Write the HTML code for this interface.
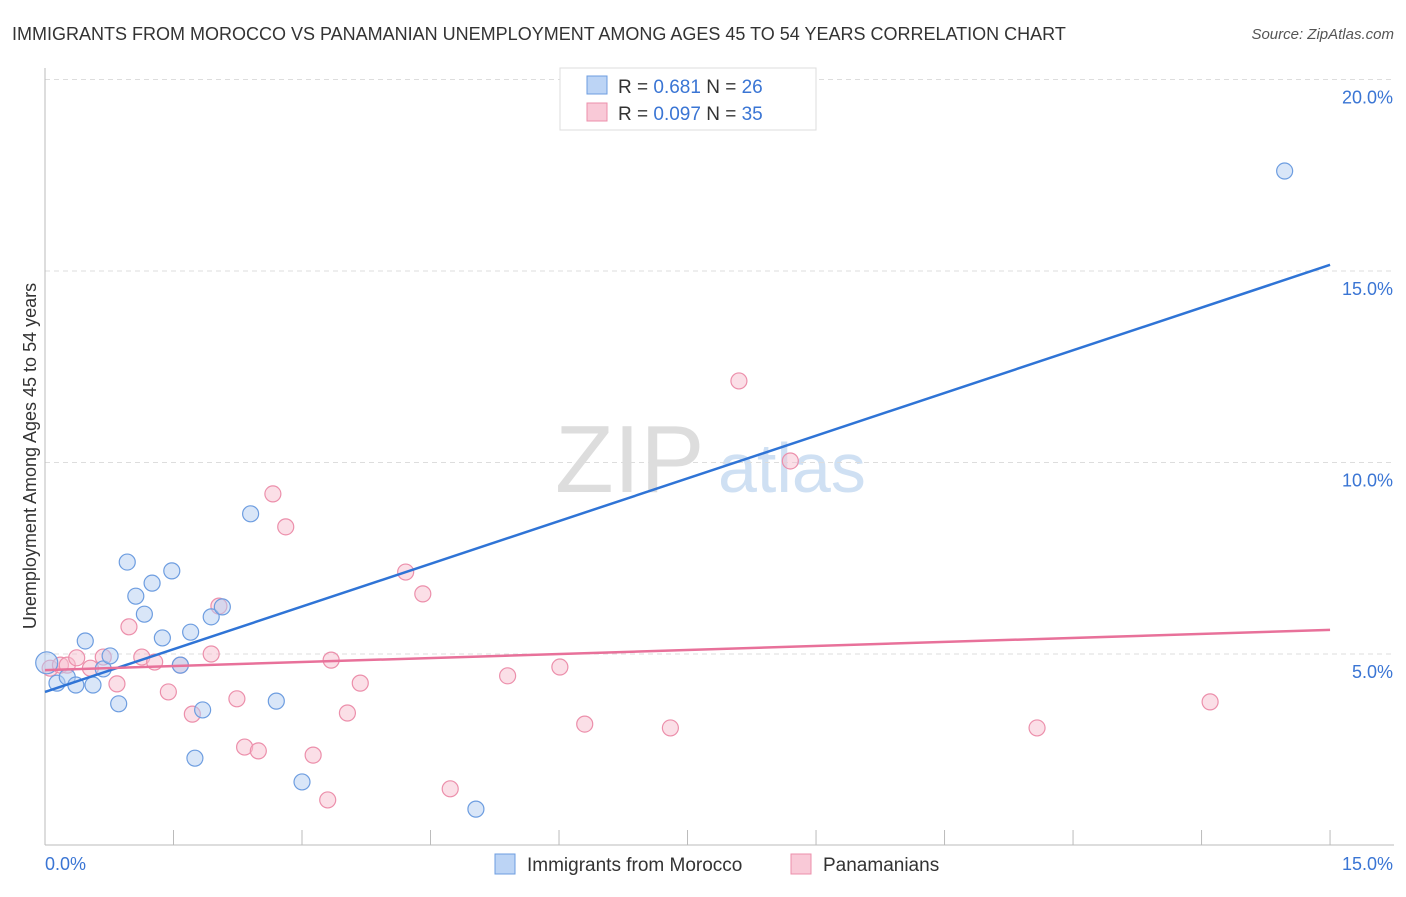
<!DOCTYPE html>
<html><head><meta charset="utf-8">
<style>
body{margin:0;background:#fff;font-family:"Liberation Sans",sans-serif;}
svg text{font-family:"Liberation Sans",sans-serif;}
</style></head>
<body>
<svg id="chart" width="1406" height="892" viewBox="0 0 1406 892" xmlns="http://www.w3.org/2000/svg">
<text x="12" y="40" font-size="18" fill="#333">IMMIGRANTS FROM MOROCCO VS PANAMANIAN UNEMPLOYMENT AMONG AGES 45 TO 54 YEARS CORRELATION CHART</text>
<text x="1394" y="39" font-size="15" fill="#555" font-style="italic" text-anchor="end">Source: ZipAtlas.com</text>
<text x="36" y="456" font-size="18" fill="#333" text-anchor="middle" transform="rotate(-90 36 456)">Unemployment Among Ages 45 to 54 years</text>
<text x="555" y="492" font-size="96" fill="#ddd" font-family="Liberation Serif">ZIP</text>
<text x="718" y="492" font-size="70" fill="#cfe0f3">atlas</text>
<g id="grid"></g>
<g id="axes"></g>
<g id="marks"></g>
<g>
<rect x="560" y="68" width="256" height="62" fill="#fff" stroke="#ddd"/>
<rect x="587" y="76" width="20" height="18" fill="#bcd4f5" stroke="#6d9de0"/>
<text x="618" y="93" font-size="19" fill="#333">R = <tspan fill="#3a75d4"> 0.681</tspan>   N = <tspan fill="#3a75d4">26</tspan></text>
<rect x="587" y="103" width="20" height="18" fill="#f9c9d7" stroke="#ec8fab"/>
<text x="618" y="120" font-size="19" fill="#333">R = <tspan fill="#3a75d4">0.097</tspan>   N = <tspan fill="#3a75d4">35</tspan></text>
</g>
<g>
<rect x="495" y="854" width="20" height="20" fill="#bcd4f5" stroke="#6d9de0"/>
<text x="527" y="871" font-size="19" fill="#333">Immigrants from Morocco</text>
<rect x="791" y="854" width="20" height="20" fill="#f9c9d7" stroke="#ec8fab"/>
<text x="823" y="871" font-size="19" fill="#333">Panamanians</text>
</g>
</svg>
<script>
const blueX=[0.02,0.14,0.26,0.36,0.47,0.56,0.68,0.76,0.86,0.96,1.06,1.16,1.25,1.37,1.48,1.58,1.70,1.75,1.84,1.94,2.07,2.40,2.70,3.00,5.03,14.47];
const blueY=[4.77,4.24,4.40,4.19,5.34,4.19,4.61,4.95,3.70,7.40,6.51,6.04,6.85,5.42,7.17,4.71,5.57,2.28,3.54,5.97,6.23,8.66,3.77,1.66,0.95,17.61];
const pinkX=[0.06,0.18,0.26,0.37,0.53,0.68,0.84,0.98,1.13,1.28,1.44,1.58,1.72,1.94,2.03,2.24,2.33,2.49,2.66,2.81,3.13,3.30,3.34,3.53,3.68,4.21,4.41,4.73,5.40,6.01,6.30,7.30,8.10,8.70,11.58,13.60];
const pinkY=[4.63,4.71,4.71,4.90,4.63,4.92,4.22,5.71,4.92,4.79,4.01,4.71,3.43,5.00,6.25,3.83,2.57,2.47,9.18,8.32,2.36,1.19,4.84,3.46,4.24,7.14,6.57,1.48,4.43,4.66,3.17,3.07,12.13,10.04,3.07,3.75];
const blueTrend=[4.01,15.16];
const pinkTrend=[4.58,5.63];
const yTicks=[5,10,15,20];
const xTickLabels=["0.0%","15.0%"];
const NS="http://www.w3.org/2000/svg";
const sx=v=>45+v*85.67;
const sy=v=>845.5-v*38.3;
function mk(tag,attrs,parent){const e=document.createElementNS(NS,tag);for(const k in attrs)e.setAttribute(k,attrs[k]);parent.appendChild(e);return e;}
const grid=document.getElementById('grid'),axes=document.getElementById('axes'),marks=document.getElementById('marks');
yTicks.forEach(t=>{
  const l=mk('line',{x1:45,x2:1394,y1:sy(t),y2:sy(t),stroke:'#ddd','stroke-dasharray':'5,4'},grid);
  
  
  const tx=mk('text',{x:1393,y:sy(t)+24,'font-size':18,fill:'#3a75d4','text-anchor':'end'},axes);
  tx.textContent=t.toFixed(1)+'%';
  
  
});
let a=mk('line',{x1:45,x2:45,y1:68,y2:845,stroke:'#bbb'},axes);


a=mk('line',{x1:45,x2:1394,y1:845,y2:845,stroke:'#bbb'},axes);


for(let i=1;i<=10;i++){
  const t=mk('line',{x1:sx(i*1.5),x2:sx(i*1.5),y1:830,y2:845,stroke:'#bbb'},axes);
  
  
}
let xl=mk('text',{x:45,y:870,'font-size':18,fill:'#3a75d4'},axes);xl.textContent=xTickLabels[0];


xl=mk('text',{x:1393,y:870,'font-size':18,fill:'#3a75d4','text-anchor':'end'},axes);xl.textContent=xTickLabels[1];


function pts(xs,ys,fill,stroke,name){
  xs.forEach((x,i)=>{
    const c=mk('circle',{cx:sx(x),cy:sy(ys[i]),r:(i===0&&name==='morocco')?11:8,fill:fill,'fill-opacity':0.5,stroke:stroke,'stroke-width':1.2},marks);
    
    
  });
}
pts(pinkX,pinkY,'#f7bfd0','#ec8fab','panamanian');
pts(blueX,blueY,'#b3cdf2','#6d9de0','morocco');
let tl=mk('line',{x1:sx(0),y1:sy(blueTrend[0]),x2:sx(15),y2:sy(blueTrend[1]),stroke:'#2f74d6','stroke-width':2.5},marks);


tl=mk('line',{x1:sx(0),y1:sy(pinkTrend[0]),x2:sx(15),y2:sy(pinkTrend[1]),stroke:'#e8719a','stroke-width':2.5},marks);


</script>
</body></html>
